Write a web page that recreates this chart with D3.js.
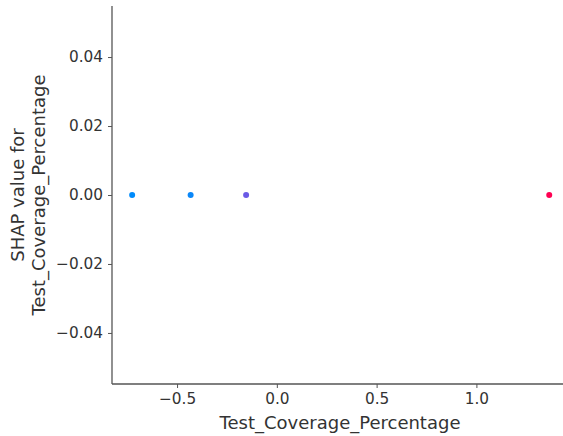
<!DOCTYPE html>
<html>
<head>
<meta charset="utf-8">
<script src="https://cdn.jsdelivr.net/npm/d3@7"></script>
<style>
  body { margin: 0; background: #fff; }
  text { font-family: "DejaVu Sans", sans-serif; fill: #333; }
</style>
</head>
<body>
<svg id="chart" width="563" height="436"></svg>
<script>
// feature values and their SHAP values (all zero here)
const featureValues = [-0.725, -0.432, -0.154, 1.365];
const shapValues = [0, 0, 0, 0];
const pointColors = ["#008bfb", "#0a87f8", "#6a5ae6", "#ff0052"];
const xTicks = [-0.5, 0.0, 0.5, 1.0];
const yTicks = [0.04, 0.02, 0.00, -0.02, -0.04];

const svg = d3.select("#chart");
const plotLeft = 112, plotTop = 6, plotRight = 563, plotBottom = 384;

const xScale = d3.scaleLinear().domain([-0.826, 1.434]).range([plotLeft, plotRight]);
const yScale = d3.scaleLinear().domain([-0.0548, 0.0548]).range([plotBottom, plotTop]);

const xAxis = svg.append("g")
    .attr("transform", "translate(0," + plotBottom + ")")
    .call(d3.axisBottom(xScale).tickValues(xTicks).tickSize(4).tickPadding(5)
        .tickFormat(d => d3.format(".1f")(d).replace("-", "\u2212")));
xAxis.select(".domain").attr("stroke", "#555").attr("stroke-width", 1.3).attr("d", "M" + plotLeft + ",0H" + plotRight);
xAxis.selectAll(".tick line").attr("stroke", "#555");
xAxis.selectAll("text").style("font-size", "15.3px").attr("fill", "#333");

const yAxis = svg.append("g")
    .attr("transform", "translate(" + plotLeft + ",0)")
    .call(d3.axisLeft(yScale).tickValues(yTicks).tickSize(4).tickPadding(5)
        .tickFormat(d => d3.format(".2f")(d).replace("-", "\u2212")));
yAxis.select(".domain").attr("stroke", "#555").attr("stroke-width", 1.3).attr("d", "M0," + plotTop + "V" + plotBottom);
yAxis.selectAll(".tick line").attr("stroke", "#555");
yAxis.selectAll("text").style("font-size", "15.3px").attr("fill", "#333");

// axis labels
svg.append("text")
    .attr("x", 340)
    .attr("y", 429)
    .attr("text-anchor", "middle")
    .style("font-size", "18px")
    .text("Test_Coverage_Percentage");

const yl = svg.append("text")
    .attr("transform", "translate(24," + (plotBottom + plotTop) / 2 + ") rotate(-90)")
    .attr("text-anchor", "middle")
    .style("font-size", "18px");
yl.append("tspan").attr("x", 0).attr("dy", 0).text("SHAP value for");
yl.append("tspan").attr("x", 0).attr("dy", 21).text("Test_Coverage_Percentage");

// points
svg.selectAll(".dot")
    .data(featureValues)
    .enter().append("circle")
    .attr("class", "dot")
    .attr("cx", d => xScale(d))
    .attr("cy", (d, i) => yScale(shapValues[i]))
    .attr("r", 3)
    .attr("fill", (d, i) => pointColors[i]);
</script>
</body>
</html>
